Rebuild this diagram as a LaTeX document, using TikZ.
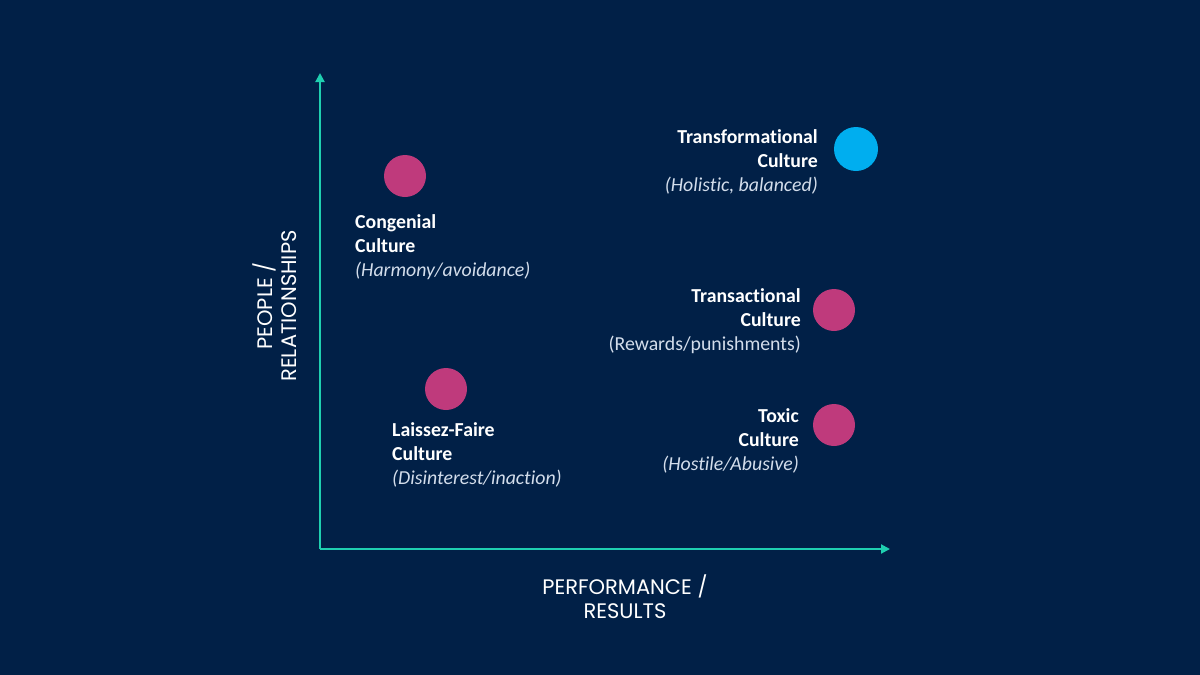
\documentclass[tikz,border=0pt]{standalone}
\usepackage{fontspec}
\setmainfont{Carlito}[Ligatures={NoCommon}]
\newfontfamily\axisfont{Poppins}
\usetikzlibrary{arrows.meta}
\definecolor{bg}{HTML}{012047}
\definecolor{teal}{HTML}{1FCFB0}
\definecolor{mag}{HTML}{BF3A7C}
\definecolor{sky}{HTML}{00AEEF}
\definecolor{sub}{HTML}{D3DDEB}
\tikzset{
  axis/.style={draw=teal, line width=2pt, -{Triangle[length=9pt,width=9pt]}},
  dot/.style={circle, fill=mag, minimum size=42pt, inner sep=0pt},
  title/.style={text=white, inner sep=0pt, font=\fontsize{19.8}{24}\selectfont\bfseries},
  subt/.style={text=sub, inner sep=0pt, font=\fontsize{19.8}{24}\selectfont\itshape},
  axlabel/.style={text=white, inner sep=0pt, align=center, font=\axisfont\fontsize{21}{24}\selectfont}
}
\begin{document}
\begin{tikzpicture}[x=1pt,y=-1pt]
\fill[bg] (0,0) rectangle (1200,675);
\useasboundingbox (0,0) rectangle (1200,675);
\coordinate (o) at (320,549);
\coordinate (ytip) at (320,73);
\coordinate (xtip) at (890,549);
\draw[axis] (o) -- (ytip);
\draw[axis] (o) -- (xtip);
\node[axlabel, anchor=north] (xl) at (625,575) {PERFORMANCE /\\RESULTS};
\node[axlabel, anchor=north, rotate=90] (yl) at (253,306) {PEOPLE /\\RELATIONSHIPS};
% Congenial
\node[dot] (c1) at (405,176) {};
\node[title, anchor=base west] (t1) at (355,228) {Congenial};
\node[title, anchor=base west] (t1b) at (355,252) {Culture};
\node[subt, anchor=base west] (s1) at (355,276) {(Harmony/avoidance)};
% Laissez-Faire
\node[dot] (c2) at (446,389) {};
\node[title, anchor=base west] (t2) at (392,436) {Laissez-Faire};
\node[title, anchor=base west] (t2b) at (392,460) {Culture};
\node[subt, anchor=base west] (s2) at (392,484) {(Disinterest/inaction)};
% Transformational
\node[dot, fill=sky, minimum size=44pt] (c3) at (856,149) {};
\node[title, anchor=base east] (t3) at (818,143) {Transformational};
\node[title, anchor=base east] (t3b) at (818,167) {Culture};
\node[subt, anchor=base east] (s3) at (818,191) {(Holistic, balanced)};
% Transactional
\node[dot] (c4) at (834,310) {};
\node[title, anchor=base east] (t4) at (801,302) {Transactional};
\node[title, anchor=base east] (t4b) at (801,326) {Culture};
\node[subt, anchor=base east, font=\fontsize{19.8}{24}\selectfont\upshape] (s4) at (801,350) {(Rewards/punishments)};
% Toxic
\node[dot] (c5) at (834,425) {};
\node[title, anchor=base east] (t5) at (799,422) {Toxic};
\node[title, anchor=base east] (t5b) at (799,446) {Culture};
\node[subt, anchor=base east] (s5) at (799,470) {(Hostile/Abusive)};
\end{tikzpicture}
\end{document}
